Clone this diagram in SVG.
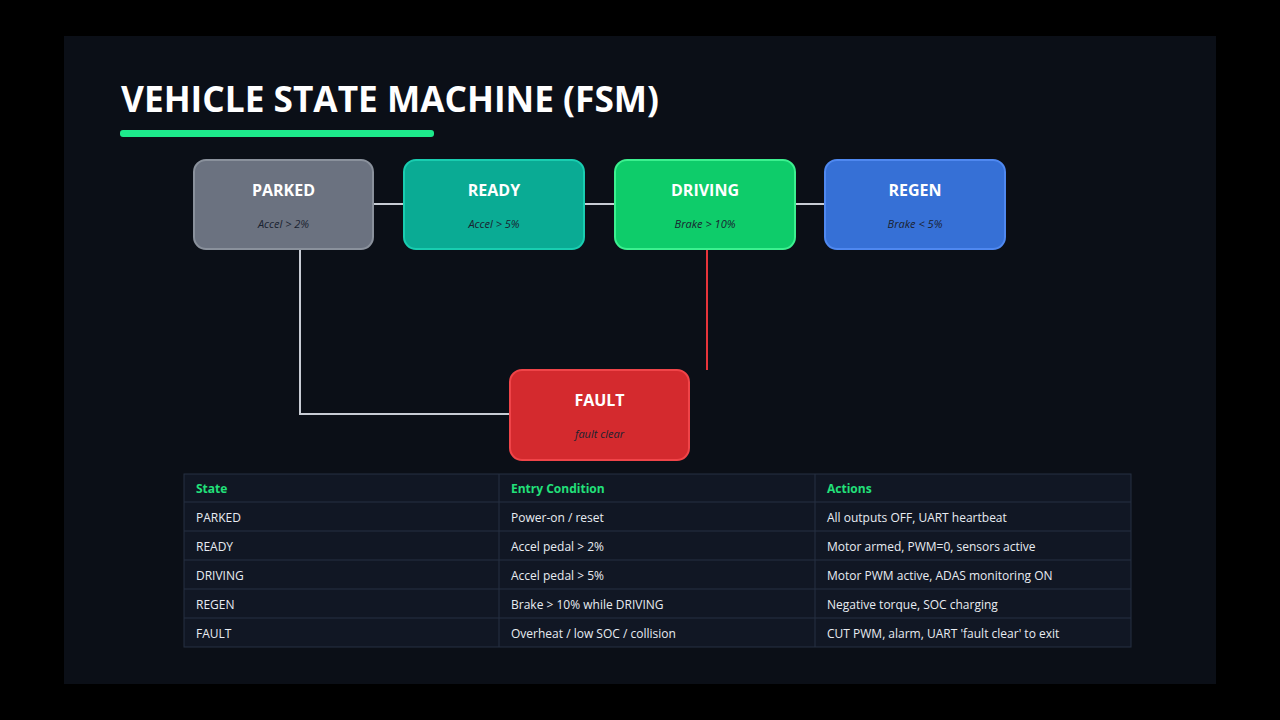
<svg xmlns="http://www.w3.org/2000/svg" width="1280" height="720" viewBox="0 0 1280 720">
<style>
.t{font-family:"Open Sans","Liberation Sans",sans-serif;}
.nt{font-family:"Open Sans","Liberation Sans",sans-serif;font-weight:700;font-size:16px;fill:#fff;text-anchor:middle;}
.ns{font-family:"Open Sans","Liberation Sans",sans-serif;font-style:italic;font-size:11px;fill:#1a2230;text-anchor:middle;}
.th{font-family:"Open Sans","Liberation Sans",sans-serif;font-weight:700;font-size:12px;fill:#22e07a;}
.td{font-family:"Open Sans","Liberation Sans",sans-serif;font-size:12px;fill:#e8ecf2;}
.c{stroke:#c8ccd4;stroke-width:2;fill:none;}
.g{stroke:#263042;stroke-width:1;}
</style>
<rect width="1280" height="720" fill="#000"/>
<rect x="64" y="36" width="1152" height="648" fill="#0b0f17"/>
<text x="121" y="112" class="t" font-size="35" font-weight="700" fill="#fff" textLength="538" lengthAdjust="spacingAndGlyphs">VEHICLE STATE MACHINE (FSM)</text>
<rect x="120" y="130" width="314" height="7" rx="3" fill="#1de98b"/>
<g id="connectors">
<line class="c" x1="373" y1="204" x2="404" y2="204"/>
<line class="c" x1="584" y1="204" x2="615" y2="204"/>
<line class="c" x1="795" y1="204" x2="825" y2="204"/>
<polyline class="c" points="300,249 300,414 510,414"/>
<line x1="707" y1="249" x2="707" y2="370" stroke="#e8343a" stroke-width="2"/>
</g>
<g id="parked"><rect x="194" y="160" width="179" height="89" rx="12" fill="#6b7280" stroke="#8a919c" stroke-width="2"/><text x="283.5" y="196" class="nt">PARKED</text><text x="283.5" y="228" class="ns">Accel &gt; 2%</text></g>
<g id="ready"><rect x="404" y="160" width="180" height="89" rx="12" fill="#0aab94" stroke="#19cdb0" stroke-width="2"/><text x="494" y="196" class="nt">READY</text><text x="494" y="228" class="ns">Accel &gt; 5%</text></g>
<g id="driving"><rect x="615" y="160" width="180" height="89" rx="12" fill="#0ecc6a" stroke="#3cf08f" stroke-width="2"/><text x="705" y="196" class="nt">DRIVING</text><text x="705" y="228" class="ns">Brake &gt; 10%</text></g>
<g id="regen"><rect x="825" y="160" width="180" height="89" rx="12" fill="#3670d6" stroke="#4f88f0" stroke-width="2"/><text x="915" y="196" class="nt">REGEN</text><text x="915" y="228" class="ns">Brake &lt; 5%</text></g>
<g id="fault"><rect x="510" y="370" width="179" height="90" rx="12" fill="#d42a2e" stroke="#f04448" stroke-width="2"/><text x="599.5" y="406" class="nt">FAULT</text><text x="599.5" y="438" class="ns">fault clear</text></g>
<g id="table">
<rect x="184" y="474" width="947" height="173" fill="#111724" stroke="#263042"/>
<line class="g" x1="184" y1="502" x2="1131" y2="502"/>
<line class="g" x1="184" y1="531" x2="1131" y2="531"/>
<line class="g" x1="184" y1="560" x2="1131" y2="560"/>
<line class="g" x1="184" y1="589" x2="1131" y2="589"/>
<line class="g" x1="184" y1="618" x2="1131" y2="618"/>
<line class="g" x1="499" y1="474" x2="499" y2="647"/>
<line class="g" x1="815" y1="474" x2="815" y2="647"/>
<text x="196" y="493" class="th">State</text><text x="511" y="493" class="th">Entry Condition</text><text x="827" y="493" class="th">Actions</text>
<text x="196" y="522" class="td">PARKED</text><text x="511" y="522" class="td">Power-on / reset</text><text x="827" y="522" class="td">All outputs OFF, UART heartbeat</text>
<text x="196" y="551" class="td">READY</text><text x="511" y="551" class="td">Accel pedal &gt; 2%</text><text x="827" y="551" class="td">Motor armed, PWM=0, sensors active</text>
<text x="196" y="580" class="td">DRIVING</text><text x="511" y="580" class="td">Accel pedal &gt; 5%</text><text x="827" y="580" class="td">Motor PWM active, ADAS monitoring ON</text>
<text x="196" y="609" class="td">REGEN</text><text x="511" y="609" class="td">Brake &gt; 10% while DRIVING</text><text x="827" y="609" class="td">Negative torque, SOC charging</text>
<text x="196" y="638" class="td">FAULT</text><text x="511" y="638" class="td">Overheat / low SOC / collision</text><text x="827" y="638" class="td">CUT PWM, alarm, UART 'fault clear' to exit</text>
</g>
</svg>
